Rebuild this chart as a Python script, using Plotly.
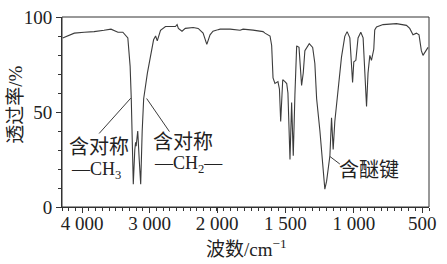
import plotly.graph_objects as go

# IR spectrum: wavenumber (cm^-1) and transmittance (%)
# high-wavenumber segment (compressed scale, 4300-2000)
wn_high = [4290, 4117, 3970, 3823, 3676, 3573, 3470, 3397, 3323, 3289, 3272, 3250,
           3242, 3220, 3208, 3200, 3176, 3154, 3132, 3110, 3088, 3033, 2985, 2941,
           2911, 2886, 2838, 2764, 2617, 2592, 2573, 2519, 2470, 2353, 2279, 2206,
           2151, 2103, 2059, 2000]
t_high = [89, 91.5, 92, 92.3, 93, 93.6, 92, 92, 89, 74, 57, 30,
          12, 30, 34, 32, 40, 25, 12, 40, 57, 70.5, 79, 88,
          90, 87.4, 93, 95, 95, 96, 94, 92.5, 94, 94.5, 94, 91.5,
          85.6, 90.6, 92.5, 93.2]

# low-wavenumber segment (2000-450)
wn_low = [2000, 1978, 1905, 1832, 1810, 1759, 1737, 1664, 1650, 1613, 1601, 1591,
          1577, 1555, 1544, 1535, 1520, 1504, 1491, 1482, 1467, 1455, 1443, 1431,
          1418, 1401, 1382, 1370, 1358, 1326, 1301, 1285, 1272, 1248, 1230, 1212,
          1199, 1175, 1163, 1151, 1139, 1126, 1115, 1090, 1066, 1049, 1029, 1017,
          1009, 1000, 985, 969, 949, 932, 920, 907, 896, 883, 871, 854,
          847, 834, 786, 688, 615, 591, 567, 542, 523, 506, 494, 474, 457]
t_low = [93.2, 93.6, 93.6, 93, 93.6, 93, 93.1, 92.3, 91.5, 90, 85, 68,
         65, 66, 62, 45, 67, 66, 65, 60, 25, 55, 27, 58.8,
         84.8, 84, 64, 70.5, 82.3, 86, 84, 75.5, 57, 40, 24, 9.4,
         13.6, 27, 47, 30.3, 45, 53.8, 62, 79, 89.8, 92.3, 89, 73.9,
         65.5, 76.4, 77.2, 89, 92, 89, 70.5, 52.9, 70.5, 79.8, 77.2, 83,
         93.2, 94.8, 96, 96.5, 95.6, 94, 90.6, 91.5, 90.6, 82.3, 79.8, 82.3, 84]

x_ticks_high = [4000, 3000]
x_labels_high = ["4 000", "3 000"]
x_ticks_low = [2000, 1500, 1000, 500]
x_labels_low = ["2 000", "1 500", "1 000", "500"]
y_ticks = [0, 50, 100]

LINE = "#3c3c3c"
AX = "#333333"
NUMF = "Liberation Serif, Noto Sans CJK SC"

fig = go.Figure()
fig.add_trace(go.Scatter(x=wn_high, y=t_high, mode="lines", xaxis="x", yaxis="y",
                         line=dict(color=LINE, width=1.1), showlegend=False))
fig.add_trace(go.Scatter(x=wn_low, y=t_low, mode="lines", xaxis="x2", yaxis="y",
                         line=dict(color=LINE, width=1.1), showlegend=False))

split = 0.4223
common_x = dict(showline=True, linecolor=AX, linewidth=1, ticks="outside", ticklen=5,
                tickcolor=AX, showgrid=False, zeroline=False, ticklabelstandoff=-6,
                ticklabeloverflow="allow",
                tickfont=dict(family=NUMF, size=19, color="#222"))
fig.update_layout(
    width=447, height=264,
    margin=dict(l=62, r=18, t=7, b=57),
    paper_bgcolor="white", plot_bgcolor="white",
    xaxis=dict(domain=[0, split], range=[4300, 2000], tickmode="array",
               tickvals=x_ticks_high, ticktext=x_labels_high, anchor="y",
               minor=dict(tickmode="linear", tick0=0, dtick=100, ticks="outside",
                          ticklen=3, tickcolor=AX),
               **common_x),
    xaxis2=dict(domain=[split, 1], range=[2001, 450], tickmode="array",
                tickvals=x_ticks_low, ticktext=x_labels_low, anchor="y",
                minor=dict(tickmode="linear", tick0=0, dtick=50, ticks="outside",
                           ticklen=3, tickcolor=AX),
                **common_x),
    yaxis=dict(range=[0, 100], tickmode="array", tickvals=y_ticks, showline=True,
               linecolor=AX, linewidth=1, ticks="outside", ticklen=5, tickcolor=AX,
               showgrid=False, zeroline=False, anchor="x", ticklabeloverflow="allow",
               minor=dict(tickmode="linear", tick0=0, dtick=10, ticks="outside",
                          ticklen=3, tickcolor=AX),
               tickfont=dict(family=NUMF, size=19, color="#222")),
)

# frame
fig.add_shape(type="rect", xref="paper", yref="paper", x0=0, x1=1, y0=0, y1=1,
              line=dict(color=AX, width=1))

# leader lines
fig.add_shape(type="line", xref="x", yref="y", x0=3749, y0=38.7, x1=3279, y1=57.3,
              line=dict(color=LINE, width=1))
fig.add_shape(type="line", xref="x", yref="y", x0=3044, y0=57.1, x1=2706, y1=39.7,
              line=dict(color=LINE, width=1))
fig.add_shape(type="line", xref="x2", yref="y", x0=1175, y0=26.6, x1=1102, y1=22.6,
              line=dict(color=LINE, width=1))

def ann(text, x, y, xref, size=20):
    fig.add_annotation(text=text, x=x, y=y, xref=xref, yref="y", showarrow=False,
                       font=dict(family=NUMF, size=size, color="#222"),
                       xanchor="center", yanchor="middle")

ann("含对称", 3749, 31.7, "x")
ann("—CH<sub>3</sub>", 3793, 19.1, "x", 18)
ann("含对称", 2507, 34.2, "x")
ann("—CH<sub>2</sub>—", 2419, 22.6, "x", 18)
ann("含醚键", 890, 19.6, "x2")

# axis titles
fig.add_annotation(text="透过率/%", xref="paper", yref="paper", x=-0.127, y=0.54,
                   showarrow=False, textangle=-90,
                   font=dict(family=NUMF, size=19, color="#222"),
                   xanchor="center", yanchor="middle")
fig.add_annotation(text="波数/cm<sup>−1</sup>", xref="paper", yref="paper",
                   x=0.504, y=-0.215, showarrow=False,
                   font=dict(family=NUMF, size=19, color="#222"),
                   xanchor="center", yanchor="middle")

fig.write_html("out.html")
